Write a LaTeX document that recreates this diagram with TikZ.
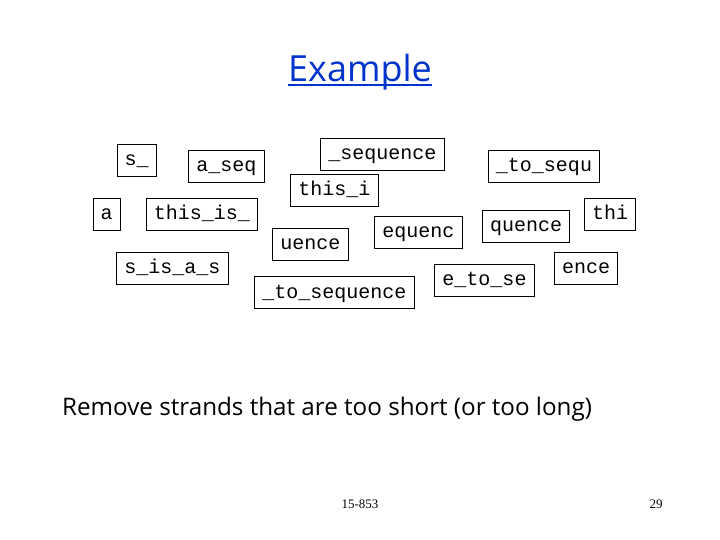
\documentclass[tikz,border=0pt]{standalone}
\usepackage{fontspec}
\setmainfont{Liberation Serif}
\newfontfamily\monofnt{Liberation Mono}
\newfontfamily\casualfnt{Open Sans}
\definecolor{titleblue}{RGB}{0,51,204}
\begin{document}
\begin{tikzpicture}[x=1bp,y=-1bp,
  strand/.style={draw=black, line width=0.8bp, font=\monofnt\fontsize{20bp}{24bp}\selectfont,
    inner xsep=7.6bp, inner ysep=0pt, minimum height=32bp, text height=15bp, text depth=4bp},
  titletext/.style={font=\casualfnt\fontsize{36bp}{40bp}\selectfont, text=titleblue, inner sep=0pt},
  bodytext/.style={font=\casualfnt\fontsize{24.2bp}{28bp}\selectfont, inner sep=0pt},
  foot/.style={font=\fontsize{13bp}{15bp}\selectfont, inner sep=0pt}]
\useasboundingbox (0,0) rectangle (720,540);
\fill[white] (0,0) rectangle (720,540);
\node[titletext, anchor=base] (title) at (360,82) {Example};
\draw[line width=2bp, titleblue] ([yshift=-3.5bp]title.base west) -- ([yshift=-3.5bp]title.base east);

\node[strand] (s1) at (136.7,160) {s\_};
\node[strand] (s2) at (226.3,166.5) {a\_seq};
\node[strand] (s3) at (106.5,214) {a};
\node[strand] (s4) at (202,214) {this\_is\_};
\node[strand] (s5) at (172.3,268) {s\_is\_a\_s};
\node[strand] (s6) at (382.3,154) {\_sequence};
\node[strand] (s7) at (334.3,190) {this\_i};
\node[strand] (s8) at (310.3,244) {uence};
\node[strand] (s9) at (418.3,232.5) {equenc};
\node[strand] (s10) at (334.3,292.5) {\_to\_sequence};
\node[strand] (s11) at (544,166.5) {\_to\_sequ};
\node[strand] (s12) at (610,214) {thi};
\node[strand] (s13) at (526,226) {quence};
\node[strand] (s14) at (586,268) {ence};
\node[strand] (s15) at (484.5,280) {e\_to\_se};

\node[bodytext, anchor=base west] (remove) at (62,415) {Remove strands that are too short (or too long)};
\node[foot, anchor=base] (course) at (360,508) {15-853};
\node[foot, anchor=base] (page) at (656,508) {29};
\end{tikzpicture}
\end{document}
